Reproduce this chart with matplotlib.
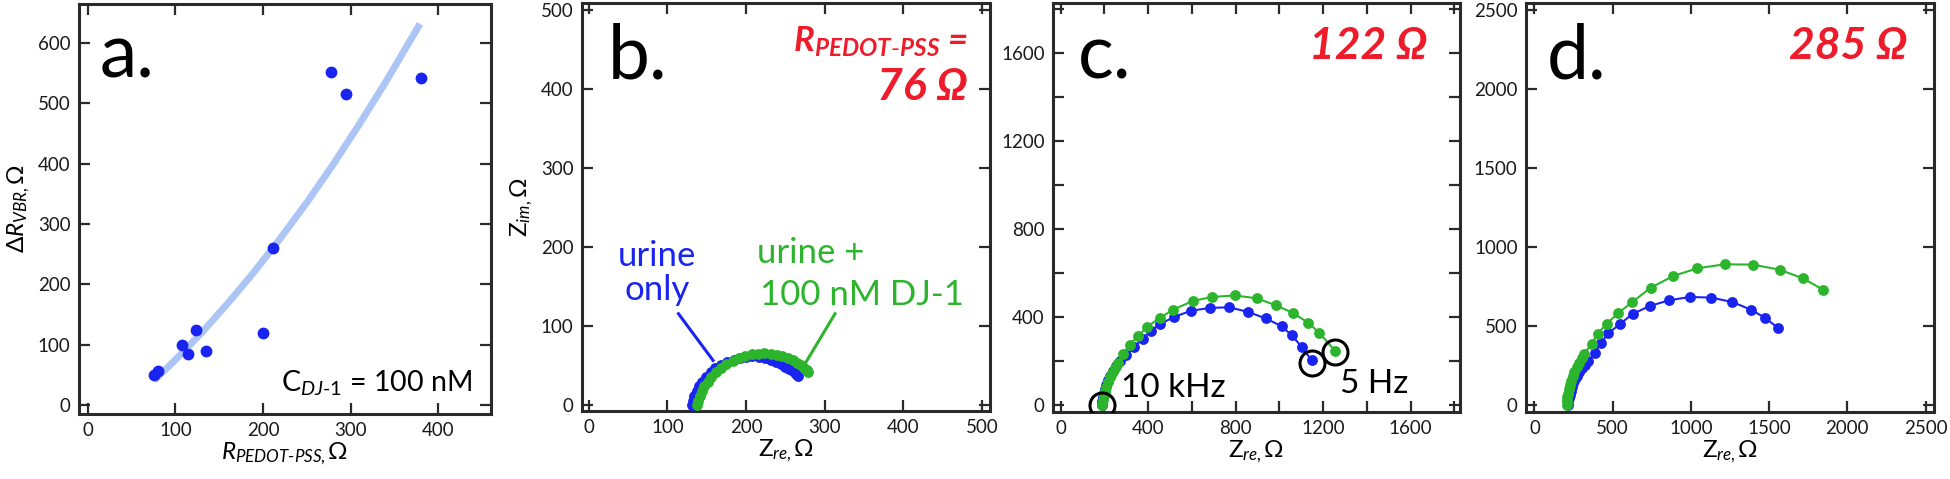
import matplotlib
matplotlib.use('Agg')
import matplotlib.pyplot as plt
from matplotlib.ticker import MultipleLocator

plt.rcParams['font.family'] = ['Lato', 'DejaVu Sans']
plt.rcParams['mathtext.fontset'] = 'custom'
plt.rcParams['mathtext.rm'] = 'Lato'
plt.rcParams['mathtext.it'] = 'Lato:italic'
plt.rcParams['mathtext.bf'] = 'Lato:style=italic:weight=bold'

# ---------------- data ----------------
# panel a: scatter + fit
a_x = [76, 80, 108, 114, 123, 135, 200, 211, 277, 295, 380]
a_y = [50, 57, 99, 84, 124, 89, 120, 261, 552, 516, 542]
fit_x = [76, 100, 130, 160, 190, 220, 250, 280, 310, 340, 379]
fit_y = [41, 75, 120, 169, 221, 277, 336, 399, 466, 536, 632]

# panel b (R = 76 ohm)
b_blue_x = [131, 132, 134, 137, 140, 144, 149, 155, 161, 168, 176, 184, 192, 200,
            208, 216, 224, 231, 238, 244, 250, 255, 259, 263, 266]
b_blue_y = [0, 6, 12, 18, 24, 30, 36, 42, 47, 51, 55, 58, 60, 61.5,
            62, 61.5, 60, 58, 55.5, 52.5, 49, 46, 43, 40, 37]
b_green_x = [138, 139, 141, 144, 147, 151, 156, 162, 168, 175, 183, 191, 199, 207,
             215, 223, 231, 239, 246, 253, 259, 265, 270, 274, 277, 279]
b_green_y = [0, 6, 12, 18, 24, 30, 36, 42, 47, 52, 56, 60, 62.5, 64.5,
             65.5, 66, 65.5, 64, 62, 59.5, 57, 54, 51, 48, 45, 42]

# panel c (R = 122 ohm)
c_blue_x = [188, 190, 193, 197, 202, 209, 217, 227, 239, 254, 273, 300, 335, 375,
            412, 453, 519, 595, 682, 770, 857, 938, 1010, 1056, 1102, 1147]
c_blue_y = [0, 16, 33, 51, 70, 90, 110, 131, 152, 174, 197, 226, 262, 300,
            336, 366, 399, 427, 440, 443, 422, 392, 357, 316, 263, 202]
c_green_x = [190, 193, 197, 202, 208, 215, 224, 235, 248, 263, 285, 316, 354, 395,
             453, 514, 605, 693, 796, 896, 984, 1063, 1132, 1182, 1254]
c_green_y = [0, 20, 40, 60, 81, 102, 124, 145, 166, 187, 232, 273, 311, 354,
             394, 432, 472, 490, 497, 484, 452, 417, 372, 328, 245]
c_circle_x = [191, 1150, 1254]
c_circle_y = [-3, 187, 240]

# panel d (R = 285 ohm)
d_blue_x = [213, 216, 220, 225, 231, 239, 248, 259, 272, 287, 304, 322, 345, 385,
            428, 472, 550, 628, 738, 861, 993, 1131, 1265, 1382, 1476, 1556]
d_blue_y = [0, 20, 41, 63, 86, 110, 134, 159, 184, 209, 234, 250, 275, 328,
            393, 452, 513, 575, 625, 661, 682, 678, 650, 602, 549, 486]
d_green_x = [206, 208, 211, 215, 220, 226, 234, 244, 256, 270, 286, 301, 319, 366,
             404, 462, 536, 625, 744, 887, 1042, 1216, 1397, 1567, 1716, 1843]
d_green_y = [0, 22, 45, 70, 96, 122, 150, 178, 207, 236, 266, 294, 323, 386,
             450, 513, 580, 650, 741, 815, 864, 889, 887, 855, 800, 729]

BLUE = '#1a24f0'
GREEN = '#2cb52c'
RED = '#ee1c2b'
FIT = '#adc5f5'
FRAME = '#2a2a2a'

fig = plt.figure(figsize=(19.5, 4.79), dpi=100)
W, H = 1950.0, 479.0


def add_axes(left, right, top, bottom):
    return fig.add_axes([left / W, (H - bottom) / H, (right - left) / W, (bottom - top) / H])


def style(ax):
    for s in ax.spines.values():
        s.set_linewidth(2.2)
        s.set_color(FRAME)
    ax.tick_params(which='both', direction='in', top=True, right=True, length=8,
                   width=1.6, color=FRAME, labelsize=13.5, pad=6, labelcolor='#1a1a1a')


LABEL_FS = 17.5
MS = 7.8

# ---------------- panel a ----------------
axa = add_axes(79, 491, 4, 414)
axa.plot(fit_x, fit_y, color=FIT, lw=5, solid_capstyle='butt', zorder=2)
axa.plot(a_x, a_y, 'o', color=BLUE, ms=8.5, mew=0, zorder=3)
axa.set_xlim(-10, 460)
axa.set_ylim(-15, 665)
axa.xaxis.set_major_locator(MultipleLocator(100))
axa.yaxis.set_major_locator(MultipleLocator(100))
style(axa)
axa.set_xlabel(r'$R_{PEDOT\text{-}PSS,}$Ω', fontsize=LABEL_FS, labelpad=1)
axa.set_ylabel(r'Δ$R_{VBR,}$Ω', fontsize=LABEL_FS, labelpad=4)
axa.text(0.051, 0.82, 'a.', transform=axa.transAxes, fontsize=54, va='baseline', ha='left')
axa.text(0.954, 0.054, r'$\mathrm{C}_{DJ\text{-}1}$ = 100 nM', transform=axa.transAxes,
         fontsize=20.5, ha='right', va='baseline')

# ---------------- panel b ----------------
axb = add_axes(582, 990, 3, 411)
axb.plot(b_blue_x, b_blue_y, '-o', color=BLUE, ms=MS, mew=0, lw=1.5, zorder=3)
axb.plot(b_green_x, b_green_y, '-o', color=GREEN, ms=MS, mew=0, lw=1.5, zorder=4)
axb.set_xlim(-8.6, 510)
axb.set_ylim(-7, 509)
axb.xaxis.set_major_locator(MultipleLocator(100))
axb.yaxis.set_major_locator(MultipleLocator(100))
style(axb)
axb.set_xlabel(r'$\mathrm{Z}_{re,}$Ω', fontsize=LABEL_FS, labelpad=1)
axb.set_ylabel(r'$\mathrm{Z}_{im,}$Ω', fontsize=LABEL_FS, labelpad=4)
axb.text(0.064, 0.816, 'b.', transform=axb.transAxes, fontsize=54, va='baseline', ha='left')
axb.text(0.946, 0.88, r'$\mathbf{R}_{\mathbf{PEDOT\text{-}PSS}}$ =', transform=axb.transAxes,
         ha='right', va='baseline', color=RED, fontsize=25, fontweight='bold', style='italic')
axb.text(0.946, 0.762, '76 Ω', transform=axb.transAxes, ha='right', va='baseline',
         color=RED, fontsize=32, fontweight='bold', style='italic')
axb.text(87, 177, 'urine', color=BLUE, fontsize=25, ha='center', va='baseline')
axb.text(87, 133, 'only', color=BLUE, fontsize=25, ha='center', va='baseline')
axb.plot([114, 158], [116, 57], color=BLUE, lw=2.2, zorder=5)
axb.text(214, 180, 'urine +', color=GREEN, fontsize=25, ha='left', va='baseline')
axb.text(218, 127, '100 nM DJ-1', color=GREEN, fontsize=25, ha='left', va='baseline')
axb.plot([313, 275], [116, 53], color=GREEN, lw=2.2, zorder=5)

# ---------------- panel c ----------------
axc = add_axes(1053, 1460, 3, 412)
axc.plot(c_blue_x, c_blue_y, '-o', color=BLUE, ms=MS, mew=0, lw=1.5, zorder=3)
axc.plot(c_green_x, c_green_y, '-o', color=GREEN, ms=MS, mew=0, lw=1.5, zorder=4)
axc.plot(c_circle_x, c_circle_y, 'o', mfc='none', mec='black', ms=18, mew=2.2, zorder=6)
axc.set_xlim(-35, 1826)
axc.set_ylim(-34, 1829)
for axis in (axc.xaxis, axc.yaxis):
    axis.set_major_locator(MultipleLocator(400))
    axis.set_minor_locator(MultipleLocator(200))
style(axc)
axc.set_xlabel(r'$\mathrm{Z}_{re,}$Ω', fontsize=LABEL_FS, labelpad=1)
axc.text(0.061, 0.816, 'c.', transform=axc.transAxes, fontsize=54, va='baseline', ha='left')
axc.text(0.919, 0.863, '122 Ω', transform=axc.transAxes, ha='right', va='baseline',
         color=RED, fontsize=32, fontweight='bold', style='italic')
axc.text(278, 33, '10 kHz', fontsize=24, ha='left', va='baseline')
axc.text(1277, 51, '5 Hz', fontsize=24, ha='left', va='baseline')

# ---------------- panel d ----------------
axd = add_axes(1526, 1934, 3, 412)
axd.plot(d_blue_x, d_blue_y, '-o', color=BLUE, ms=MS, mew=0, lw=1.5, zorder=3)
axd.plot(d_green_x, d_green_y, '-o', color=GREEN, ms=MS, mew=0, lw=1.5, zorder=4)
axd.set_xlim(-54, 2554)
axd.set_ylim(-47, 2545)
axd.xaxis.set_major_locator(MultipleLocator(500))
axd.yaxis.set_major_locator(MultipleLocator(500))
style(axd)
axd.set_xlabel(r'$\mathrm{Z}_{re,}$Ω', fontsize=LABEL_FS, labelpad=1)
axd.text(0.051, 0.816, 'd.', transform=axd.transAxes, fontsize=54, va='baseline', ha='left')
axd.text(0.934, 0.863, '285 Ω', transform=axd.transAxes, ha='right', va='baseline',
         color=RED, fontsize=32, fontweight='bold', style='italic')

fig.savefig('out.png', dpi=100)
